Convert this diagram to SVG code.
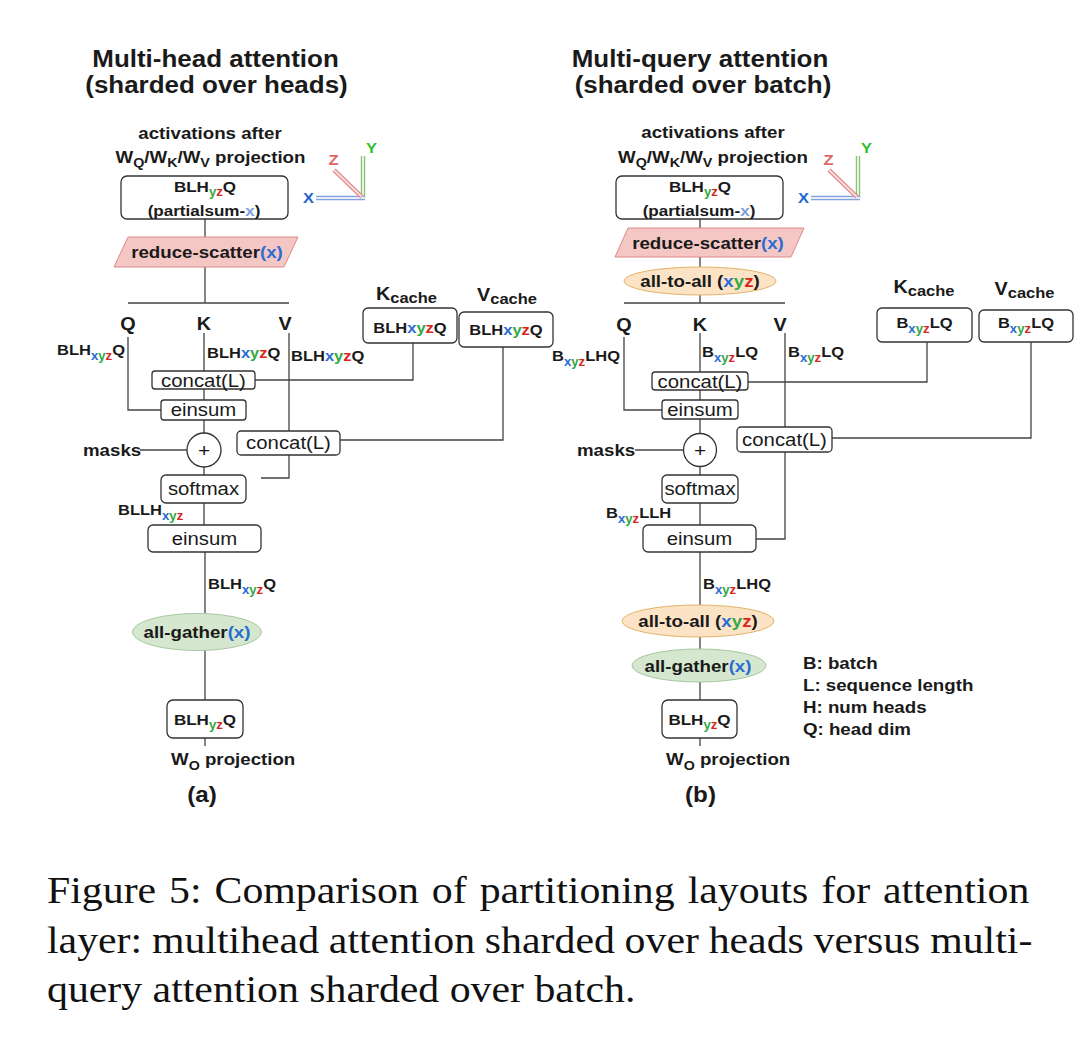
<svg xmlns="http://www.w3.org/2000/svg" width="1080" height="1059" viewBox="0 0 1080 1059">
<style>
text{font-family:"Liberation Sans",Arial,Helvetica,sans-serif;fill:#1a1a1a}
.b{font-weight:bold}
.r{font-weight:normal}
.t{font-size:23.6px;font-weight:bold;text-anchor:middle}
.m{text-anchor:middle}
.lb{font-size:17px;font-weight:bold}
.dim{font-size:15px;font-weight:bold}
.op{font-size:18.5px;font-weight:normal;text-anchor:middle}
.sub{font-size:12px}
.cx{fill:#2a6dd1}.cy{fill:#34a843}.cz{fill:#d9261c}.cxl{fill:#7f9fd8}
.box{fill:#fff;stroke:#333;stroke-width:1.3}
.ln{fill:none;stroke:#444;stroke-width:1.3}
.cap{font-family:"Liberation Serif","Times New Roman",serif;font-size:38px;fill:#111}
</style>
<rect width="1080" height="1059" fill="#fff"/>

<!-- connectors -->
<g id="connectors" class="ln">
  <!-- left -->
  <path d="M205 219V237M205 267V303M128 303H289"/>
  <path d="M128 337V410H161"/>
  <path d="M204 333V371M204 389V400M204 420V433M204 467V475M204 503V525M205 552V613M205 650V700M205 738V746"/>
  <path d="M289 333V431M289 455V478H261"/>
  <path d="M255 380H413V343"/>
  <path d="M503 347V440H340"/>
  <path d="M140 450H188"/>
  <!-- right -->
  <path d="M700 219V228M700 257V267M700 295V303M624 303H785"/>
  <path d="M624 337V410H662"/>
  <path d="M700 333V372M700 390V400M700 419V434M700 466V475M700 503V525M700 552V605M700 637V649M700 682V700M700 738V746"/>
  <path d="M785 333V427M785 452V539H756"/>
  <path d="M748 382H927V342"/>
  <path d="M1031 342V438H832"/>
  <path d="M635 450H684"/>
</g>

<!-- Left panel -->
<g id="title-a">
  <text class="t" transform="matrix(1.1 0 0 1 215.5 67)">Multi-head attention</text>
  <text class="t" transform="matrix(1.1 0 0 1 216.5 93)">(sharded over heads)</text>
</g>
<g id="act-a">
  <text class="lb m" transform="matrix(1.1 0 0 1 210 139)">activations after</text>
  <text class="lb m" transform="matrix(1.1 0 0 1 210.5 163)">W<tspan font-size="13" dy="4">Q</tspan><tspan dy="-4">/W</tspan><tspan font-size="13" dy="4">K</tspan><tspan dy="-4">/W</tspan><tspan font-size="13" dy="4">V</tspan><tspan dy="-4"> projection</tspan></text>
</g>
<g id="axes-a">
  <g stroke-linecap="butt">
    <line x1="363" y1="156" x2="363" y2="199" stroke="#8cc47c" stroke-width="4.5"/>
    <line x1="363" y1="156" x2="363" y2="199" stroke="#e4f1dc" stroke-width="2"/>
    <line x1="316" y1="198" x2="365" y2="198" stroke="#7fa3df" stroke-width="4.5"/>
    <line x1="316" y1="198" x2="365" y2="198" stroke="#e4ecfa" stroke-width="2"/>
    <line x1="334" y1="170" x2="362" y2="197" stroke="#e08585" stroke-width="4.5"/>
    <line x1="334" y1="170" x2="362" y2="197" stroke="#f9dcdc" stroke-width="2"/>
  </g>
  <text class="m b" font-size="15" style="fill:#e06666" transform="matrix(1.1 0 0 1 333.5 165)">Z</text>
  <text class="m b" font-size="15" style="fill:#2fc030" transform="matrix(1.1 0 0 1 371.5 153)">Y</text>
  <text class="m b" font-size="15" style="fill:#1f66cc" transform="matrix(1.1 0 0 1 308.5 203)">X</text>
</g>
<g id="in-a">
  <rect class="box" x="121" y="176" width="167" height="43" rx="6"/>
  <text class="b m" font-size="15.5" transform="matrix(1.1 0 0 1 205 192)">BLH<tspan class="cy sub" dy="4">y</tspan><tspan class="cz sub">z</tspan><tspan dy="-4">Q</tspan></text>
  <text class="b m" font-size="15.5" transform="matrix(1.1 0 0 1 204 216)">(partialsum-<tspan class="cxl">x</tspan>)</text>
</g>
<g id="rs-a">
  <polygon points="128,237 298,237 284,267 114,267" fill="#f4c7c5" stroke="#d98b88" stroke-width="1"/>
  <text class="lb m" transform="matrix(1.1 0 0 1 207 258)">reduce-scatter<tspan class="cx">(x)</tspan></text>
</g>
<g id="qkv-a">
  <text class="b m" font-size="18" transform="matrix(1.1 0 0 1 128 330)">Q</text>
  <text class="b m" font-size="18" transform="matrix(1.1 0 0 1 204 330)">K</text>
  <text class="b m" font-size="18" transform="matrix(1.1 0 0 1 285 330)">V</text>
  <text class="dim" transform="matrix(1.1 0 0 1 57 355)">BLH<tspan class="cx sub" dy="5">x</tspan><tspan class="cy sub">y</tspan><tspan class="cz sub">z</tspan><tspan dy="-5">Q</tspan></text>
  <text class="dim" transform="matrix(1.1 0 0 1 207 358)">BLH<tspan class="cx">x</tspan><tspan class="cy">y</tspan><tspan class="cz">z</tspan>Q</text>
  <text class="dim" transform="matrix(1.1 0 0 1 291 361)">BLH<tspan class="cx">x</tspan><tspan class="cy">y</tspan><tspan class="cz">z</tspan>Q</text>
</g>
<g id="kcache-a">
  <text class="b m" font-size="18" transform="matrix(1.1 0 0 1 406.5 300)">K<tspan font-size="15" dy="3">cache</tspan></text>
  <rect class="box" x="363" y="308" width="94" height="35" rx="5"/>
  <text class="dim m" transform="matrix(1.1 0 0 1 410 333)">BLH<tspan class="cx">x</tspan><tspan class="cy">y</tspan><tspan class="cz">z</tspan>Q</text>
</g>
<g id="vcache-a">
  <text class="b m" font-size="18" transform="matrix(1.1 0 0 1 507 301)">V<tspan font-size="15" dy="3">cache</tspan></text>
  <rect class="box" x="459" y="312" width="94" height="35" rx="5"/>
  <text class="dim m" transform="matrix(1.1 0 0 1 506 335)">BLH<tspan class="cx">x</tspan><tspan class="cy">y</tspan><tspan class="cz">z</tspan>Q</text>
</g>
<g id="concat1-a">
  <rect class="box" x="152" y="371" width="103" height="18" rx="3"/>
  <text class="op" transform="matrix(1.1 0 0 1 203.5 387)">concat(L)</text>
</g>
<g id="einsum1-a">
  <rect class="box" x="161" y="400" width="85" height="20" rx="3"/>
  <text class="op" transform="matrix(1.1 0 0 1 203.5 416)">einsum</text>
</g>
<g id="masks-a">
  <text class="lb" transform="matrix(1.1 0 0 1 83 456)">masks</text>
  <circle cx="204" cy="450" r="17" fill="#fff" stroke="#333" stroke-width="1.3"/>
  <text class="r m" font-size="19" transform="matrix(1.1 0 0 1 204 457)">+</text>
</g>
<g id="concat2-a">
  <rect class="box" x="237" y="431" width="103" height="24" rx="4"/>
  <text class="op" transform="matrix(1.1 0 0 1 288.5 449)">concat(L)</text>
</g>
<g id="softmax-a">
  <rect class="box" x="161" y="475" width="85" height="28" rx="5"/>
  <text class="op" transform="matrix(1.1 0 0 1 203.5 495)">softmax</text>
  <text class="dim" transform="matrix(1.1 0 0 1 118 515)">BLLH<tspan class="cx sub" dy="5">x</tspan><tspan class="cy sub">y</tspan><tspan class="cz sub">z</tspan></text>
</g>
<g id="einsum2-a">
  <rect class="box" x="148" y="525" width="113" height="27" rx="5"/>
  <text class="op" transform="matrix(1.1 0 0 1 204.5 545)">einsum</text>
  <text class="dim" transform="matrix(1.1 0 0 1 208 589)">BLH<tspan class="cx sub" dy="5">x</tspan><tspan class="cy sub">y</tspan><tspan class="cz sub">z</tspan><tspan dy="-5">Q</tspan></text>
</g>
<g id="allgather-a">
  <ellipse cx="197" cy="632" rx="64.5" ry="18.5" fill="#d5e8cf" stroke="#a7c7a0" stroke-width="1"/>
  <text class="lb m" transform="matrix(1.1 0 0 1 197 638)">all-gather<tspan class="cx">(x)</tspan></text>
</g>
<g id="out-a">
  <rect class="box" x="167" y="700" width="76" height="38" rx="6"/>
  <text class="b m" font-size="15.5" transform="matrix(1.1 0 0 1 205 725)">BLH<tspan class="cy sub" dy="4">y</tspan><tspan class="cz sub">z</tspan><tspan dy="-4">Q</tspan></text>
  <text class="lb" transform="matrix(1.1 0 0 1 171 765)">W<tspan font-size="13" dy="5">O</tspan><tspan dy="-5"> projection</tspan></text>
  <text class="b m" font-size="22" transform="matrix(1.1 0 0 1 202 802)">(a)</text>
</g>

<!-- Right panel -->
<g id="title-b">
  <text class="t" transform="matrix(1.1 0 0 1 700 67)">Multi-query attention</text>
  <text class="t" transform="matrix(1.1 0 0 1 703 93)">(sharded over batch)</text>
</g>
<g id="act-b">
  <text class="lb m" transform="matrix(1.1 0 0 1 713 138)">activations after</text>
  <text class="lb m" transform="matrix(1.1 0 0 1 713 163)">W<tspan font-size="13" dy="4">Q</tspan><tspan dy="-4">/W</tspan><tspan font-size="13" dy="4">K</tspan><tspan dy="-4">/W</tspan><tspan font-size="13" dy="4">V</tspan><tspan dy="-4"> projection</tspan></text>
</g>
<g id="axes-b" transform="translate(495,0)">
  <g stroke-linecap="butt">
    <line x1="363" y1="156" x2="363" y2="199" stroke="#8cc47c" stroke-width="4.5"/>
    <line x1="363" y1="156" x2="363" y2="199" stroke="#e4f1dc" stroke-width="2"/>
    <line x1="316" y1="198" x2="365" y2="198" stroke="#7fa3df" stroke-width="4.5"/>
    <line x1="316" y1="198" x2="365" y2="198" stroke="#e4ecfa" stroke-width="2"/>
    <line x1="334" y1="170" x2="362" y2="197" stroke="#e08585" stroke-width="4.5"/>
    <line x1="334" y1="170" x2="362" y2="197" stroke="#f9dcdc" stroke-width="2"/>
  </g>
  <text class="m b" font-size="15" style="fill:#e06666" transform="matrix(1.1 0 0 1 333.5 165)">Z</text>
  <text class="m b" font-size="15" style="fill:#2fc030" transform="matrix(1.1 0 0 1 371.5 153)">Y</text>
  <text class="m b" font-size="15" style="fill:#1f66cc" transform="matrix(1.1 0 0 1 308.5 203)">X</text>
</g>
<g id="in-b">
  <rect class="box" x="616" y="176" width="167" height="43" rx="6"/>
  <text class="b m" font-size="15.5" transform="matrix(1.1 0 0 1 700 192)">BLH<tspan class="cy sub" dy="4">y</tspan><tspan class="cz sub">z</tspan><tspan dy="-4">Q</tspan></text>
  <text class="b m" font-size="15.5" transform="matrix(1.1 0 0 1 699 216)">(partialsum-<tspan class="cxl">x</tspan>)</text>
</g>
<g id="rs-b">
  <polygon points="628,228 804,228 791,257 615,257" fill="#f4c7c5" stroke="#d98b88" stroke-width="1"/>
  <text class="lb m" transform="matrix(1.1 0 0 1 708 249)">reduce-scatter<tspan class="cx">(x)</tspan></text>
</g>
<g id="a2a1-b">
  <ellipse cx="700" cy="281" rx="76" ry="14" fill="#fce3c6" stroke="#e2b36a" stroke-width="1"/>
  <text class="lb m" transform="matrix(1.1 0 0 1 700 287)">all-to-all (<tspan class="cx">x</tspan><tspan class="cy">y</tspan><tspan class="cz">z</tspan>)</text>
</g>
<g id="qkv-b">
  <text class="b m" font-size="18" transform="matrix(1.1 0 0 1 624 331)">Q</text>
  <text class="b m" font-size="18" transform="matrix(1.1 0 0 1 700 331)">K</text>
  <text class="b m" font-size="18" transform="matrix(1.1 0 0 1 780 331)">V</text>
  <text class="dim" transform="matrix(1.1 0 0 1 552 361)">B<tspan class="cx sub" dy="5">x</tspan><tspan class="cy sub">y</tspan><tspan class="cz sub">z</tspan><tspan dy="-5">LHQ</tspan></text>
  <text class="dim" transform="matrix(1.1 0 0 1 702 357)">B<tspan class="cx sub" dy="5">x</tspan><tspan class="cy sub">y</tspan><tspan class="cz sub">z</tspan><tspan dy="-5">LQ</tspan></text>
  <text class="dim" transform="matrix(1.1 0 0 1 788 357)">B<tspan class="cx sub" dy="5">x</tspan><tspan class="cy sub">y</tspan><tspan class="cz sub">z</tspan><tspan dy="-5">LQ</tspan></text>
</g>
<g id="kcache-b">
  <text class="b m" font-size="18" transform="matrix(1.1 0 0 1 924 293)">K<tspan font-size="15" dy="3">cache</tspan></text>
  <rect class="box" x="877" y="308" width="95" height="34" rx="5"/>
  <text class="dim m" transform="matrix(1.1 0 0 1 924.5 328)">B<tspan class="cx sub" dy="5">x</tspan><tspan class="cy sub">y</tspan><tspan class="cz sub">z</tspan><tspan dy="-5">LQ</tspan></text>
</g>
<g id="vcache-b">
  <text class="b m" font-size="18" transform="matrix(1.1 0 0 1 1024.5 295)">V<tspan font-size="15" dy="3">cache</tspan></text>
  <rect class="box" x="979" y="310" width="94" height="32" rx="5"/>
  <text class="dim m" transform="matrix(1.1 0 0 1 1026 328)">B<tspan class="cx sub" dy="5">x</tspan><tspan class="cy sub">y</tspan><tspan class="cz sub">z</tspan><tspan dy="-5">LQ</tspan></text>
</g>
<g id="concat1-b">
  <rect class="box" x="652" y="372" width="96" height="18" rx="3"/>
  <text class="op" transform="matrix(1.1 0 0 1 700 388)">concat(L)</text>
</g>
<g id="einsum1-b">
  <rect class="box" x="662" y="400" width="76" height="19" rx="3"/>
  <text class="op" transform="matrix(1.1 0 0 1 700 416)">einsum</text>
</g>
<g id="masks-b">
  <text class="lb" transform="matrix(1.1 0 0 1 577 456)">masks</text>
  <circle cx="700" cy="450" r="16.5" fill="#fff" stroke="#333" stroke-width="1.3"/>
  <text class="r m" font-size="19" transform="matrix(1.1 0 0 1 700 457)">+</text>
</g>
<g id="concat2-b">
  <rect class="box" x="737" y="427" width="95" height="25" rx="4"/>
  <text class="op" transform="matrix(1.1 0 0 1 784.5 446)">concat(L)</text>
</g>
<g id="softmax-b">
  <rect class="box" x="662" y="475" width="76" height="28" rx="5"/>
  <text class="op" transform="matrix(1.1 0 0 1 700 495)">softmax</text>
  <text class="dim" transform="matrix(1.1 0 0 1 606 518)">B<tspan class="cx sub" dy="5">x</tspan><tspan class="cy sub">y</tspan><tspan class="cz sub">z</tspan><tspan dy="-5">LLH</tspan></text>
</g>
<g id="einsum2-b">
  <rect class="box" x="643" y="525" width="113" height="27" rx="5"/>
  <text class="op" transform="matrix(1.1 0 0 1 699.5 545)">einsum</text>
  <text class="dim" transform="matrix(1.1 0 0 1 703 589)">B<tspan class="cx sub" dy="5">x</tspan><tspan class="cy sub">y</tspan><tspan class="cz sub">z</tspan><tspan dy="-5">LHQ</tspan></text>
</g>
<g id="a2a2-b">
  <ellipse cx="698" cy="621" rx="76" ry="16" fill="#fce3c6" stroke="#e2b36a" stroke-width="1"/>
  <text class="lb m" transform="matrix(1.1 0 0 1 698 627)">all-to-all (<tspan class="cx">x</tspan><tspan class="cy">y</tspan><tspan class="cz">z</tspan>)</text>
</g>
<g id="allgather-b">
  <ellipse cx="699" cy="665.5" rx="67" ry="16.5" fill="#d5e8cf" stroke="#a7c7a0" stroke-width="1"/>
  <text class="lb m" transform="matrix(1.1 0 0 1 698 672)">all-gather<tspan class="cx">(x)</tspan></text>
</g>
<g id="out-b">
  <rect class="box" x="662" y="700" width="75" height="38" rx="6"/>
  <text class="b m" font-size="15.5" transform="matrix(1.1 0 0 1 699.5 725)">BLH<tspan class="cy sub" dy="4">y</tspan><tspan class="cz sub">z</tspan><tspan dy="-4">Q</tspan></text>
  <text class="lb" transform="matrix(1.1 0 0 1 666 765)">W<tspan font-size="13" dy="5">O</tspan><tspan dy="-5"> projection</tspan></text>
  <text class="b m" font-size="22" transform="matrix(1.1 0 0 1 700.5 802)">(b)</text>
</g>
<g id="legend">
  <text class="lb" transform="matrix(1.1 0 0 1 803 669)">B: batch</text>
  <text class="lb" transform="matrix(1.1 0 0 1 803 691)">L: sequence length</text>
  <text class="lb" transform="matrix(1.1 0 0 1 803 713)">H: num heads</text>
  <text class="lb" transform="matrix(1.1 0 0 1 803 735)">Q: head dim</text>
</g>

<g id="caption">
  <text class="cap" word-spacing="2.3" transform="matrix(1.1 0 0 1 47 903)">Figure 5: Comparison of partitioning layouts for attention</text>
  <text class="cap" word-spacing="-0.6" transform="matrix(1.1 0 0 1 47 953)">layer: multihead attention sharded over heads versus multi-</text>
  <text class="cap" transform="matrix(1.1 0 0 1 47 1002)">query attention sharded over batch.</text>
</g>
</svg>
